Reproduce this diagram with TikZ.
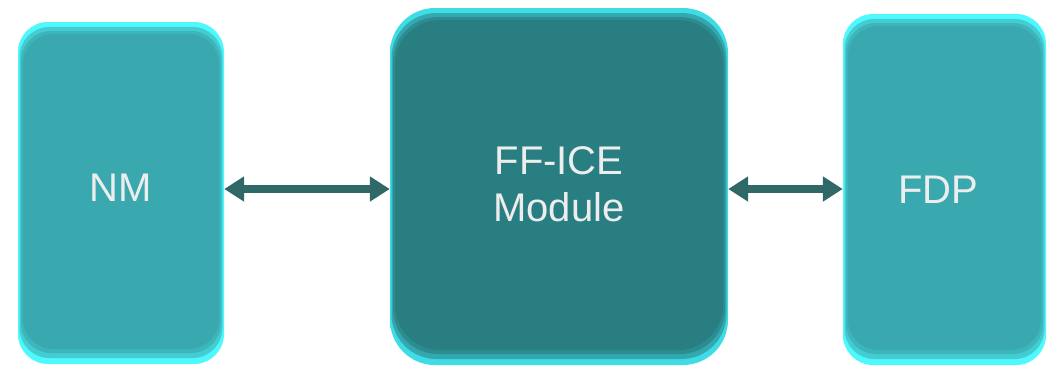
\documentclass[tikz,border=0pt]{standalone}
\usepackage{fontspec}
\setmainfont{Liberation Sans}
\usetikzlibrary{arrows.meta}

\definecolor{boxlight}{HTML}{39A9AF}
\definecolor{boxdark}{HTML}{297E82}
\definecolor{glowlight}{HTML}{4FF8FC}
\definecolor{glowdark}{HTML}{3FDCE6}
\definecolor{linkcol}{HTML}{306868}
\definecolor{labelcol}{HTML}{EDEDED}

\tikzset{
  module/.style n args={3}{rounded corners=#1, inner sep=0pt,
    text=labelcol, align=center, font=\fontsize{40}{47}\selectfont,
    path picture={
      \shade[top color=#3, middle color=#2, bottom color=#3]
        (path picture bounding box.north west) rectangle
        (path picture bounding box.south east);
      \fill[rounded corners=#1, #3!45!#2]
        ([shift={(1.5pt,-5pt)}]path picture bounding box.north west) rectangle
        ([shift={(-1.5pt,6pt)}]path picture bounding box.south east);
      \fill[rounded corners=#1, #3!15!#2]
        ([shift={(3pt,-9pt)}]path picture bounding box.north west) rectangle
        ([shift={(-3pt,11pt)}]path picture bounding box.south east);
      \fill[rounded corners=#1, #2]
        ([shift={(5pt,-12pt)}]path picture bounding box.north west) rectangle
        ([shift={(-5pt,15pt)}]path picture bounding box.south east);
    }},
  link/.style={linkcol, line width=8pt,
    {Triangle[width=24pt,length=20pt]}-{Triangle[width=24pt,length=20pt]}}
}

\begin{document}
\begin{tikzpicture}[x=1pt,y=1pt]
\useasboundingbox (0,0) rectangle (1052,-370);

% the three blocks
\node[module={30pt}{boxlight}{glowlight}, minimum width=206pt, minimum height=342pt]
  (nm) at (121,-193) {\raisebox{10pt}{NM}};
\node[module={45pt}{boxdark}{glowdark}, minimum width=338pt, minimum height=357pt]
  (ffice) at (559,-186.5) {\raisebox{4pt}{FF-ICE}\\\raisebox{4pt}{Module}};
\node[module={30pt}{boxlight}{glowlight}, minimum width=203pt, minimum height=351pt]
  (fdp) at (944.5,-189.5) {\raisebox{-1.5pt}{FDP}\hspace*{13pt}};

% links
\draw[link] ([yshift=4pt]nm.east) -- ([yshift=4pt]nm.east -| ffice.west);
\draw[link] ([yshift=-2.5pt]ffice.east) -- ([yshift=-2.5pt]ffice.east -| fdp.west);
\end{tikzpicture}
\end{document}
